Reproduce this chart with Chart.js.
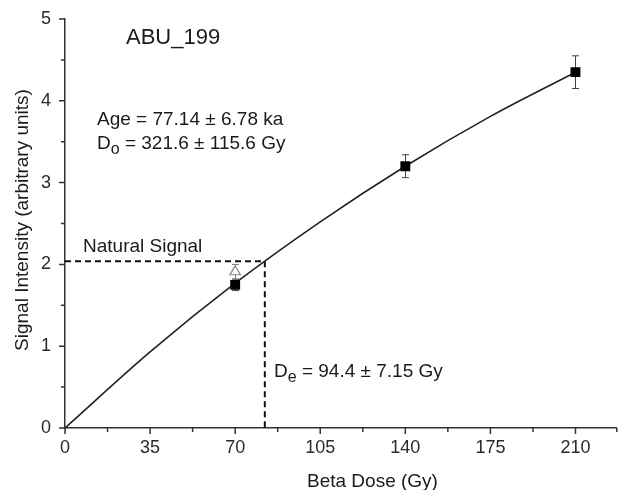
<!DOCTYPE html>
<html>
<head>
<meta charset="utf-8">
<script src="https://cdn.jsdelivr.net/npm/chart.js@4"></script>
<style>
  html, body { margin: 0; padding: 0; background: #fff; }
  #wrap { width: 624px; height: 490px; }
</style>
</head>
<body>
<div id="wrap"><canvas id="chart" width="624" height="490"></canvas></div>
<script>
// regenerated dose points (Gy) and signal
const doses = [70, 140, 210];
const signal = [1.75, 3.20, 4.35];
const signalErr = [0.07, 0.14, 0.20];

// natural signal test point (open triangle)
const naturalDose = [70];
const naturalSig = [1.91];
const naturalErr = [0.09];

// fitted growth curve
const fitDose = [0, 35, 70, 105, 140, 175, 210];
const fitSig = [0, 0.93, 1.77, 2.52, 3.20, 3.81, 4.35];

// natural signal level and where it crosses the curve
const natLevel = 2.04;
const deDose = 82.2;

const xTicks = [0, 35, 70, 105, 140, 175, 210];
const xMinor = [17.5, 52.5, 87.5, 122.5, 157.5, 192.5];
const yTicks = [0, 1, 2, 3, 4, 5];
const yMinor = [0.5, 1.5, 2.5, 3.5, 4.5];

const FONT = "'Liberation Sans', Arial, Helvetica, sans-serif";
const INK = '#1a1a1a';

function pts(xs, ys){ return xs.map((x, i) => ({ x: x, y: ys[i] })); }

function subText(ctx, x, y, main, sub, rest, size, subSize, drop){
  ctx.font = size + 'px ' + FONT;
  ctx.fillText(main, x, y);
  x += ctx.measureText(main).width;
  ctx.font = subSize + 'px ' + FONT;
  ctx.fillText(sub, x, y + drop);
  x += ctx.measureText(sub).width;
  ctx.font = size + 'px ' + FONT;
  ctx.fillText(rest, x, y);
}

function noPad(s){ s.paddingTop = 0; s.paddingBottom = 0; s.paddingLeft = 0; s.paddingRight = 0; }

const extras = {
  id: 'extras',
  beforeDatasetsDraw(chart){
    const ctx = chart.ctx, xs = chart.scales.x, ys = chart.scales.y;
    ctx.save();
    ctx.lineWidth = 1;
    // error bars
    const bars = [
      { xs: doses, ys: signal, es: signalErr, color: '#444' },
      { xs: naturalDose, ys: naturalSig, es: naturalErr, color: '#777' }
    ];
    bars.forEach(b => {
      ctx.strokeStyle = b.color;
      b.xs.forEach((d, i) => {
        const px = Math.round(xs.getPixelForValue(d)) + 0.5;
        const top = ys.getPixelForValue(b.ys[i] + b.es[i]);
        const bot = ys.getPixelForValue(b.ys[i] - b.es[i]);
        ctx.beginPath();
        ctx.moveTo(px, top); ctx.lineTo(px, bot);
        ctx.moveTo(px - 3.5, top); ctx.lineTo(px + 3.5, top);
        ctx.moveTo(px - 3.5, bot); ctx.lineTo(px + 3.5, bot);
        ctx.stroke();
      });
    });
    ctx.restore();
  },
  afterDraw(chart){
    const ctx = chart.ctx, xs = chart.scales.x, ys = chart.scales.y;
    const a = chart.chartArea;
    ctx.save();
    // tick marks pointing outward
    ctx.strokeStyle = '#333';
    ctx.lineWidth = 1.5;
    ctx.beginPath();
    xTicks.forEach(v => { const p = xs.getPixelForValue(v); ctx.moveTo(p, a.bottom); ctx.lineTo(p, a.bottom + 6); });
    xMinor.forEach(v => { const p = xs.getPixelForValue(v); ctx.moveTo(p, a.bottom); ctx.lineTo(p, a.bottom + 4); });
    ctx.moveTo(a.right, a.bottom); ctx.lineTo(a.right, a.bottom + 4);
    yTicks.forEach(v => { const p = ys.getPixelForValue(v); ctx.moveTo(a.left, p); ctx.lineTo(a.left - 6, p); });
    yMinor.forEach(v => { const p = ys.getPixelForValue(v); ctx.moveTo(a.left, p); ctx.lineTo(a.left - 4, p); });
    ctx.stroke();

    // annotations
    ctx.fillStyle = INK;
    ctx.textBaseline = 'alphabetic';
    ctx.textAlign = 'left';
    ctx.font = '22px ' + FONT;
    ctx.fillText('ABU_199', 126, 44);
    ctx.font = '19px ' + FONT;
    ctx.fillText('Age = 77.14 \u00b1 6.78 ka', 97, 125);
    subText(ctx, 97, 149, 'D', 'o', ' = 321.6 \u00b1 115.6 Gy', 19, 16, 5);
    ctx.font = '19px ' + FONT;
    ctx.fillText('Natural Signal', 83, 252);
    subText(ctx, 274, 377, 'D', 'e', ' = 94.4 \u00b1 7.15 Gy', 19, 16, 5);

    // axis titles
    ctx.font = '19px ' + FONT;
    ctx.fillText('Beta Dose (Gy)', 307, 487);
    ctx.translate(28, 220);
    ctx.rotate(-Math.PI / 2);
    ctx.textAlign = 'center';
    ctx.fillText('Signal Intensity (arbitrary units)', 0, 0);
    ctx.restore();
  }
};

new Chart(document.getElementById('chart'), {
  type: 'scatter',
  data: {
    datasets: [
      {
        label: 'Regenerated',
        data: pts(doses, signal),
        pointStyle: 'rect',
        pointRadius: 7,
        backgroundColor: '#000',
        borderColor: '#000',
        borderWidth: 0
      },
      {
        label: 'Natural',
        data: pts(naturalDose, naturalSig),
        pointStyle: 'triangle',
        pointRadius: 6,
        backgroundColor: '#fff',
        borderColor: '#888',
        borderWidth: 1.2
      },
      {
        label: 'Fit',
        data: pts(fitDose, fitSig),
        showLine: true,
        pointRadius: 0,
        borderColor: '#222',
        borderWidth: 1.6,
        cubicInterpolationMode: 'monotone'
      },
      {
        label: 'De',
        data: [{ x: 0, y: natLevel }, { x: deDose, y: natLevel }, { x: deDose, y: 0 }],
        showLine: true,
        pointRadius: 0,
        borderColor: '#111',
        borderWidth: 2,
        borderDash: [6, 4]
      }
    ]
  },
  options: {
    responsive: false,
    animation: false,
    layout: { padding: { top: 19, right: 3, left: 0, bottom: 0 } },
    plugins: { legend: { display: false }, tooltip: { enabled: false } },
    scales: {
      x: {
        type: 'linear',
        min: 0,
        max: 227,
        afterFit(s){ s.height = 62; noPad(s); },
        afterBuildTicks(s){ s.ticks = xTicks.map(v => ({ value: v })); },
        grid: { display: false, drawTicks: false, tickLength: 0 },
        border: { display: true, color: '#333', width: 1.5 },
        ticks: { font: { family: FONT, size: 18 }, color: '#2a2a2a', padding: 9, maxRotation: 0, autoSkip: false }
      },
      y: {
        type: 'linear',
        min: 0,
        max: 5,
        afterFit(s){ s.width = 65; noPad(s); },
        afterBuildTicks(s){ s.ticks = yTicks.map(v => ({ value: v })); },
        grid: { display: false, drawTicks: false, tickLength: 0 },
        border: { display: true, color: '#333', width: 1.5 },
        ticks: { font: { family: FONT, size: 18 }, color: '#2a2a2a', padding: 14 }
      }
    }
  },
  plugins: [extras]
});
</script>
</body>
</html>
